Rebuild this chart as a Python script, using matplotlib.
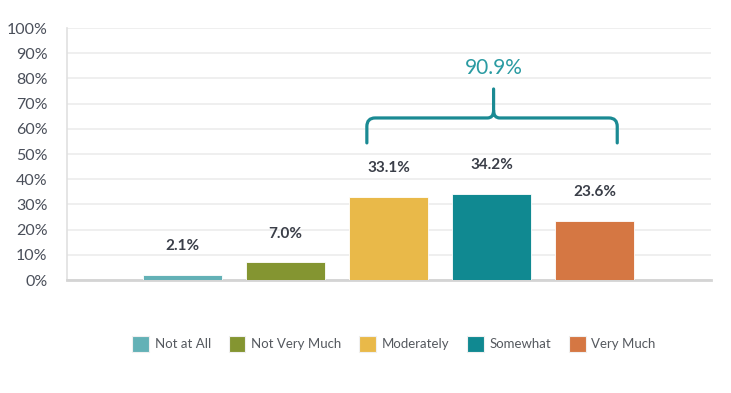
import matplotlib
matplotlib.use("Agg")
import matplotlib.pyplot as plt
from matplotlib.path import Path
from matplotlib.patches import PathPatch, Patch

plt.rcParams['font.family'] = ['Lato', 'DejaVu Sans']

categories = ["Not at All", "Not Very Much", "Moderately", "Somewhat", "Very Much"]
values = [2.1, 7.0, 33.1, 34.2, 23.6]
colors = ["#63b1b6", "#849531", "#e9b949", "#108991", "#d57743"]
yticks = [0, 10, 20, 30, 40, 50, 60, 70, 80, 90, 100]
ytick_labels = [f"{t}%" for t in yticks]
bracket_label = "90.9%"

fig = plt.figure(figsize=(7.31, 3.93), dpi=100)
ax = fig.add_axes([67/731, 1-280/393, (711-67)/731, (280-28)/393])

x = list(range(len(categories)))
bars = ax.bar(x, values, width=0.77, color=colors, edgecolor="white", linewidth=0.6, zorder=3)

for xi, v in zip(x, values):
    ax.annotate(f"{v:.1f}%", (xi, v), xytext=(0, 20.5), textcoords="offset points",
                ha="center", va="center", fontsize=11, fontweight="bold", color="#3a3e48")

ax.set_xlim(-1.12, 5.13)
ax.set_ylim(0, 100)
ax.set_yticks(yticks)
ax.set_yticklabels(ytick_labels, fontsize=11.5, color="#4a4f5a")
ax.set_xticks([])
ax.tick_params(axis='y', length=0, pad=14)
ax.grid(axis='y', color="#ececec", linewidth=1.2, zorder=0)
for s in ["top", "right"]:
    ax.spines[s].set_visible(False)
ax.spines["left"].set_color("#e0e0e0")
ax.spines["left"].set_linewidth(1.2)
ax.spines["bottom"].set_color("#d4d4d4")
ax.spines["bottom"].set_linewidth(2)

# bracket
x0, x1, xp = 1.79, 4.22, 3.02
yb, yh, yt = 54.4, 64.3, 75.8
rx, ry = 0.08, 3.4
px, py = 0.06, 3.0
verts = [
    (x0, yb), (x0, yh - ry),
    (x0, yh), (x0 + rx, yh),
    (xp - px, yh),
    (xp, yh), (xp, yh + py),
    (xp, yt),
    (xp, yh + py),
    (xp, yh), (xp + px, yh),
    (x1 - rx, yh),
    (x1, yh), (x1, yh - ry),
    (x1, yb),
]
codes = [Path.MOVETO, Path.LINETO,
         Path.CURVE3, Path.CURVE3,
         Path.LINETO,
         Path.CURVE3, Path.CURVE3,
         Path.LINETO,
         Path.MOVETO,
         Path.CURVE3, Path.CURVE3,
         Path.LINETO,
         Path.CURVE3, Path.CURVE3,
         Path.LINETO]
ax.add_patch(PathPatch(Path(verts, codes), facecolor="none", edgecolor="#1a8a93",
                       linewidth=2.3, capstyle="round", joinstyle="round", zorder=4, clip_on=False))
ax.text(xp, 84.3, bracket_label, ha="center", va="center", fontsize=15, color="#2a9ba2")

handles = [Patch(facecolor=c, edgecolor="#f0f0f0", linewidth=0.8, label=l) for c, l in zip(colors, categories)]
fig.legend(handles=handles, loc="center", bbox_to_anchor=(394/731, 1-344/393), ncol=5,
           frameon=False, fontsize=9.5, handlelength=1.25, handleheight=1.5,
           handletextpad=0.45, columnspacing=1.35, labelcolor="#55595f")

fig.savefig("out.png", dpi=100)
